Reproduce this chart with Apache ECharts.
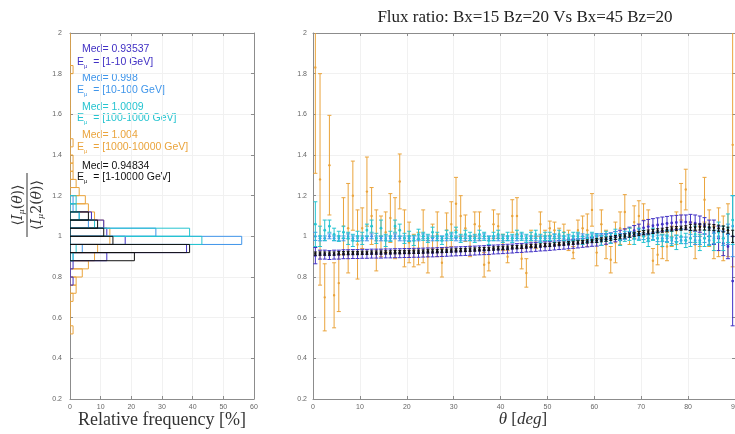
<!DOCTYPE html>
<html><head><meta charset="utf-8">
<script src="https://cdn.jsdelivr.net/npm/echarts@6/dist/echarts.min.js"></script>
<style>html,body{margin:0;padding:0;background:#fff}#c{width:735px;height:434px}</style>
</head><body><div id="c"></div><script>
// ---------- DATA ----------
const theta = [0.5,1.5,2.5,3.5,4.5,5.5,6.5,7.5,8.5,9.5,10.5,11.5,12.5,13.5,14.5,15.5,16.5,17.5,18.5,19.5,
 20.5,21.5,22.5,23.5,24.5,25.5,26.5,27.5,28.5,29.5,30.5,31.5,32.5,33.5,34.5,35.5,36.5,37.5,38.5,39.5,
 40.5,41.5,42.5,43.5,44.5,45.5,46.5,47.5,48.5,49.5,50.5,51.5,52.5,53.5,54.5,55.5,56.5,57.5,58.5,59.5,
 60.5,61.5,62.5,63.5,64.5,65.5,66.5,67.5,68.5,69.5,70.5,71.5,72.5,73.5,74.5,75.5,76.5,77.5,78.5,79.5,
 80.5,81.5,82.5,83.5,84.5,85.5,86.5,87.5,88.5,89.5];

const ratio1to10 = [0.905,0.91,0.91,0.908,0.91,0.91,0.912,0.912,0.913,0.913,
 0.914,0.914,0.915,0.915,0.915,0.916,0.916,0.917,0.917,0.918,
 0.918,0.919,0.919,0.92,0.921,0.921,0.922,0.923,0.924,0.925,
 0.926,0.927,0.928,0.929,0.93,0.931,0.932,0.933,0.935,0.936,
 0.937,0.939,0.94,0.942,0.943,0.945,0.946,0.948,0.95,0.951,
 0.953,0.955,0.957,0.959,0.961,0.963,0.965,0.968,0.97,0.973,
 0.977,0.981,0.986,0.992,0.998,1.005,1.012,1.02,1.028,1.035,
 1.042,1.048,1.052,1.056,1.06,1.063,1.066,1.068,1.07,1.07,
 1.068,1.065,1.06,1.052,1.04,1.02,0.99,0.965,0.95,0.78];
const err1to10 = [0.04,0.022,0.022,0.022,0.022,0.022,0.022,0.022,0.022,0.022,
 0.022,0.022,0.022,0.022,0.022,0.022,0.022,0.022,0.022,0.022,
 0.022,0.022,0.022,0.022,0.022,0.022,0.022,0.022,0.022,0.022,
 0.022,0.022,0.022,0.022,0.022,0.022,0.022,0.022,0.022,0.022,
 0.022,0.022,0.022,0.022,0.022,0.022,0.022,0.022,0.022,0.022,
 0.022,0.022,0.022,0.022,0.022,0.022,0.022,0.022,0.022,0.022,
 0.025,0.025,0.025,0.025,0.025,0.025,0.025,0.025,0.025,0.025,
 0.035,0.035,0.035,0.035,0.035,0.035,0.035,0.035,0.035,0.035,
 0.04,0.04,0.04,0.04,0.04,0.06,0.06,0.06,0.06,0.22];

const ratio10to100 = [1.00,0.99,0.99,1.00,0.99,0.99,0.99,1.00,0.99,0.99,
 0.99,0.99,1.00,0.99,0.99,0.99,0.99,1.00,0.99,0.99,
 0.99,0.99,0.99,1.00,0.99,0.99,0.99,0.99,0.99,1.00,
 0.99,0.99,0.99,0.99,0.99,0.99,1.00,0.99,0.99,0.99,
 0.99,0.99,0.99,0.99,1.00,0.99,0.99,0.99,0.99,0.99,
 0.99,1.00,0.99,0.99,0.99,0.99,1.00,1.00,0.99,1.00,
 1.00,1.00,1.00,1.00,1.01,1.00,1.00,1.01,1.00,1.00,
 1.00,0.99,1.00,0.99,0.99,0.99,0.98,0.99,0.98,0.98,
 0.99,0.98,0.98,0.99,0.98,0.99,1.00,0.99,1.01,1.05];
const err10to100 = [0.02,0.012,0.012,0.012,0.012,0.012,0.012,0.012,0.012,0.012,
 0.012,0.012,0.012,0.012,0.012,0.012,0.012,0.012,0.012,0.012,
 0.012,0.012,0.012,0.012,0.012,0.012,0.012,0.012,0.012,0.012,
 0.012,0.012,0.012,0.012,0.012,0.012,0.012,0.012,0.012,0.012,
 0.012,0.012,0.012,0.012,0.012,0.012,0.012,0.012,0.012,0.012,
 0.012,0.012,0.012,0.012,0.012,0.012,0.012,0.012,0.012,0.012,
 0.014,0.014,0.014,0.014,0.014,0.014,0.014,0.014,0.014,0.014,
 0.016,0.016,0.016,0.016,0.016,0.016,0.016,0.016,0.016,0.016,
 0.02,0.02,0.02,0.02,0.02,0.025,0.03,0.035,0.05,0.15];

const ratio100to1000 = [1.06,1.00,1.03,1.05,1.01,1.00,1.02,0.99,0.98,1.00,
 0.99,1.03,1.05,0.99,1.04,0.98,1.00,1.05,1.03,0.99,
 1.00,0.98,1.01,1.00,0.99,1.02,1.00,0.98,1.01,1.00,
 1.02,0.99,1.01,1.00,0.99,1.01,1.00,0.98,1.00,1.01,
 0.99,1.00,0.99,1.01,1.00,0.99,1.00,1.01,0.99,1.00,
 1.00,0.99,1.01,1.00,0.99,1.00,1.00,0.98,0.99,1.00,
 0.99,0.98,1.00,0.99,1.01,0.98,1.00,1.01,0.99,1.01,
 1.00,0.98,1.01,0.99,0.98,1.00,0.99,0.97,1.00,0.98,
 0.99,1.01,0.97,0.99,1.00,0.98,1.02,0.99,1.04,1.08];
const err100to1000 = [0.11,0.05,0.05,0.03,0.03,0.025,0.03,0.03,0.03,0.025,
 0.03,0.03,0.03,0.025,0.04,0.03,0.025,0.03,0.03,0.025,
 0.025,0.025,0.025,0.02,0.02,0.025,0.02,0.02,0.02,0.02,
 0.025,0.02,0.02,0.02,0.02,0.02,0.02,0.02,0.02,0.02,
 0.02,0.02,0.02,0.02,0.02,0.02,0.02,0.02,0.02,0.02,
 0.02,0.02,0.02,0.02,0.02,0.02,0.02,0.02,0.02,0.02,
 0.02,0.025,0.025,0.025,0.025,0.025,0.025,0.03,0.03,0.03,
 0.03,0.03,0.03,0.03,0.03,0.03,0.035,0.035,0.035,0.035,
 0.04,0.04,0.04,0.04,0.045,0.05,0.05,0.06,0.07,0.12];

const ratio1000to10000 = [1.83,1.28,0.70,1.35,0.71,0.77,1.05,1.04,1.20,0.96,
 1.04,1.22,1.10,0.98,1.00,1.02,1.09,1.04,1.27,0.99,
 0.97,0.93,0.94,1.00,0.90,1.00,1.01,0.87,1.03,1.06,
 1.16,1.10,1.04,0.95,1.06,1.05,0.86,0.87,1.06,1.05,
 0.97,0.90,1.10,1.10,0.89,0.82,0.99,0.97,1.06,0.99,
 1.04,1.03,1.00,1.02,0.98,0.92,1.03,1.04,1.03,1.13,
 0.92,1.06,0.96,0.885,0.97,1.04,1.12,1.00,1.07,1.10,
 1.08,1.06,0.88,0.91,0.95,0.95,1.00,1.04,1.17,1.23,
 1.02,0.96,1.00,1.18,1.04,0.97,1.02,0.99,1.03,1.45];
const err1000to10000 = [0.52,0.52,0.165,0.245,0.16,0.14,0.14,0.22,0.17,0.17,
 0.10,0.17,0.14,0.15,0.10,0.10,0.12,0.15,0.135,0.14,
 0.10,0.08,0.08,0.13,0.08,0.06,0.11,0.07,0.085,0.11,
 0.13,0.10,0.065,0.05,0.06,0.07,0.06,0.04,0.07,0.06,
 0.04,0.03,0.08,0.09,0.05,0.07,0.04,0.03,0.06,0.04,
 0.035,0.04,0.04,0.04,0.05,0.03,0.05,0.06,0.08,0.08,
 0.065,0.07,0.07,0.065,0.10,0.08,0.085,0.04,0.08,0.075,
 0.08,0.07,0.06,0.05,0.06,0.07,0.05,0.08,0.09,0.10,
 0.05,0.07,0.05,0.11,0.09,0.08,0.12,0.11,0.13,0.60];

const ratioAll = [0.915,0.915,0.915,0.915,0.915,0.917,0.917,0.918,0.918,0.918,
 0.919,0.919,0.92,0.92,0.92,0.921,0.921,0.922,0.922,0.923,
 0.923,0.924,0.924,0.925,0.926,0.926,0.927,0.928,0.929,0.93,
 0.931,0.932,0.933,0.934,0.935,0.936,0.937,0.938,0.94,0.941,
 0.943,0.944,0.946,0.947,0.949,0.95,0.952,0.953,0.955,0.957,
 0.958,0.96,0.962,0.964,0.966,0.968,0.97,0.972,0.975,0.977,
 0.98,0.983,0.986,0.99,0.994,0.998,1.002,1.006,1.01,1.014,
 1.018,1.021,1.024,1.027,1.03,1.033,1.036,1.038,1.04,1.042,
 1.044,1.045,1.046,1.046,1.045,1.043,1.04,1.036,1.03,1.0];
const errAll = [0.008,0.008,0.008,0.008,0.008,0.008,0.008,0.008,0.008,0.008,
 0.008,0.008,0.008,0.008,0.008,0.008,0.008,0.008,0.008,0.008,
 0.008,0.008,0.008,0.008,0.008,0.008,0.008,0.008,0.008,0.008,
 0.008,0.008,0.008,0.008,0.008,0.008,0.008,0.008,0.008,0.008,
 0.008,0.008,0.008,0.008,0.008,0.008,0.008,0.008,0.008,0.008,
 0.008,0.008,0.008,0.008,0.008,0.008,0.008,0.008,0.008,0.008,
 0.01,0.01,0.01,0.01,0.01,0.01,0.01,0.01,0.01,0.01,
 0.01,0.01,0.01,0.01,0.01,0.01,0.01,0.01,0.01,0.01,
 0.015,0.015,0.015,0.015,0.015,0.015,0.015,0.015,0.015,0.03];

// histograms: relative frequency [%] per ratio bin (bin width 0.04)
const histBinWidth = 0.04;
const histStart1to10 = 0.76;
const hist1to10 = [1,0,1,12,38,18,12,11,7];
const histStart10to100 = 0.88;
const hist10to100 = [1,4,56,28,6,3,1,1];
const histStart100to1000 = 0.88;
const hist100to1000 = [1,2,43,39,8,3,2,2];
const histStart1000to10000 = 0.52;
const hist1000to10000 = [1,0,0,0,1,2,2,4,6,8,9,13,13,11,8,6,5,3,2,1,1,1,0,1,0,0,0,0,0,0,0,0,1,0,0,0,0];
const histStartAll = 0.88;
const histAll = [21,39,14,11,9,6];

const medians = ['0.93537','0.998','1.0009','1.004','0.94834'];
const energyRanges = ['[1-10 GeV]','[10-100 GeV]','[100-1000 GeV]','[1000-10000 GeV]','[1-10000 GeV]'];
const titleText = 'Flux ratio: Bx=15 Bz=20 Vs Bx=45 Bz=20';

// ---------- STYLE ----------
const C = {p:'#4030c4', lb:'#3f95ea', cy:'#26c4d0', or:'#eaa43c', bk:'#111111'};
const colorsList = [C.p, C.lb, C.cy, C.or, C.bk];
const axisCol = '#8c8c8c';
const lblFont = {fontSize:7, color:'#666', fontFamily:'Liberation Sans'};

function mkX(grid, max, pos, show){
  return {type:'value', gridIndex:grid, min:0, max:max, interval:10, position:pos,
    axisLine:{show:true, onZero:false, lineStyle:{color:axisCol, width:1}},
    axisTick:{show:true, inside:true, length:3, lineStyle:{color:axisCol}},
    axisLabel:Object.assign({show:show, margin:5, showMaxLabel:true, hideOverlap:false}, lblFont),
    splitLine:{show:show, lineStyle:{color:'#f1f1f1', width:1}}};
}
function mkY(grid, pos, show, margin){
  return {type:'value', gridIndex:grid, min:0.2, max:2, interval:0.2, position:pos,
    axisLine:{show:true, onZero:false, lineStyle:{color:axisCol, width:1}},
    axisTick:{show:true, inside:true, length:3, lineStyle:{color:axisCol}},
    axisLabel:Object.assign({show:show, margin:margin}, lblFont),
    splitLine:{show:show, lineStyle:{color:'#f1f1f1', width:1}}};
}

function histData(start, freq){
  return freq.map((f,i)=>[start+i*histBinWidth, start+(i+1)*histBinWidth, f]);
}
function histSeries(start, freq, color, z){
  return {type:'custom', xAxisIndex:0, yAxisIndex:0, z:z, clip:true,
    data: histData(start, freq),
    encode:{x:2, y:[0,1]},
    renderItem:function(params, api){
      const lo=api.value(0), hi=api.value(1), f=api.value(2);
      const a=api.coord([0,hi]), b=api.coord([f,lo]);
      return {type:'rect', shape:{x:a[0], y:a[1], width:b[0]-a[0], height:b[1]-a[1]},
        style:{fill:'none', stroke:color, lineWidth:1}};
    }};
}
function errSeries(vals, errs, color, z, r, w){
  return {type:'custom', xAxisIndex:2, yAxisIndex:2, z:z, clip:true,
    data: theta.map((t,i)=>[t, vals[i], errs[i]]),
    encode:{x:0, y:1},
    renderItem:function(params, api){
      const x=api.value(0), v=api.value(1), e=api.value(2);
      const top=api.coord([x, v+e]), bot=api.coord([x, v-e]), mid=api.coord([x, v]);
      const st={stroke:color, lineWidth:1};
      return {type:'group', children:[
        {type:'line', shape:{x1:top[0], y1:top[1], x2:bot[0], y2:bot[1]}, style:st},
        {type:'line', shape:{x1:top[0]-w, y1:top[1], x2:top[0]+w, y2:top[1]}, style:st},
        {type:'line', shape:{x1:bot[0]-w, y1:bot[1], x2:bot[0]+w, y2:bot[1]}, style:st},
        {type:'circle', shape:{cx:mid[0], cy:mid[1], r:r}, style:{fill:color}}
      ]};
    }};
}

// ---------- TEXT GRAPHICS ----------
const graphics = [];
graphics.push({type:'text', x:525, y:18, style:{text:titleText, fontSize:17, fontFamily:'Liberation Serif', fill:'#222', align:'center', verticalAlign:'middle'}});
graphics.push({type:'text', x:162, y:420, style:{text:'Relative frequency [%]', fontSize:18, fontFamily:'Liberation Serif', fill:'#333', align:'center', verticalAlign:'middle'}});
graphics.push({type:'text', x:523, y:420, style:{text:'{i|θ} [{i|deg}]', fontSize:17, fontFamily:'Liberation Serif', fill:'#333', align:'center', verticalAlign:'middle',
  rich:{i:{fontStyle:'italic', fontSize:17, fontFamily:'Liberation Serif', fill:'#333'}}}});
const medY = [49, 78, 107, 135, 166];
const eY = [62, 90, 118, 147, 177];
for (let i=0;i<5;i++){
  graphics.push({type:'text', x:82, y:medY[i], style:{text:'Med= '+medians[i], fontSize:10.5, fontFamily:'Liberation Sans', fill:colorsList[i], align:'left', verticalAlign:'middle'}});
  graphics.push({type:'text', x:77, y:eY[i], style:{text:'{e|E}{s|μ}{t|  = '+energyRanges[i]+'}', align:'left', verticalAlign:'middle',
    rich:{e:{fontSize:10.5, fontFamily:'Liberation Sans', fill:colorsList[i]},
          s:{fontSize:6, fontFamily:'Liberation Sans', fill:colorsList[i], padding:[8,0,0,0]},
          t:{fontSize:10.5, fontFamily:'Liberation Sans', fill:colorsList[i]}}}});
}
const fracRich = {i:{fontStyle:'italic', fontSize:14, fontFamily:'DejaVu Serif', fill:'#333'},
                  n:{fontSize:14, fontFamily:'DejaVu Serif', fill:'#333'},
                  s:{fontStyle:'italic', fontSize:8, fontFamily:'DejaVu Serif', fill:'#333', padding:[8,0,0,0]}};
graphics.push({type:'group', x:27, y:205, rotation:Math.PI/2, children:[
  {type:'text', x:0, y:-9, style:{text:'{n|⟨}{i|I}{s|μ}{n|(}{i|θ}{n|)⟩}', align:'center', verticalAlign:'middle', rich:fracRich}},
  {type:'line', shape:{x1:-32, y1:0, x2:32, y2:0}, style:{stroke:'#333', lineWidth:1}},
  {type:'text', x:0, y:10, style:{text:'{n|⟨}{i|I}{s|μ}{n|2(}{i|θ}{n|)⟩}', align:'center', verticalAlign:'middle', rich:fracRich}}
]});

// ---------- CHART ----------
const chart = echarts.init(document.getElementById('c'), null, {renderer:'canvas'});
chart.setOption({
  animation:false,
  backgroundColor:'#fff',
  grid:[{left:70, right:481, top:33, bottom:35, containLabel:false, outerBoundsMode:'none'},
        {left:313, right:0, top:33, bottom:35, containLabel:false, outerBoundsMode:'none'}],
  xAxis:[mkX(0,60,'bottom',true), mkX(0,60,'top',false), mkX(1,90,'bottom',true), mkX(1,90,'top',false)],
  yAxis:[mkY(0,'left',true,8), mkY(0,'right',false,8), mkY(1,'left',true,6), mkY(1,'right',false,6)],
  graphic: graphics,
  series:[
    histSeries(histStart1000to10000, hist1000to10000, C.or, 2),
    histSeries(histStart1to10, hist1to10, C.p, 3),
    histSeries(histStart10to100, hist10to100, C.lb, 4),
    histSeries(histStart100to1000, hist100to1000, C.cy, 5),
    histSeries(histStartAll, histAll, C.bk, 6),
    errSeries(ratio1000to10000, err1000to10000, C.or, 2, 1.2, 2),
    errSeries(ratio1to10, err1to10, C.p, 3, 1.4, 2),
    errSeries(ratio10to100, err10to100, C.lb, 4, 1.4, 2),
    errSeries(ratio100to1000, err100to1000, C.cy, 5, 1.4, 2),
    errSeries(ratioAll, errAll, C.bk, 6, 1.2, 1.5)
  ]
});
</script></body></html>
